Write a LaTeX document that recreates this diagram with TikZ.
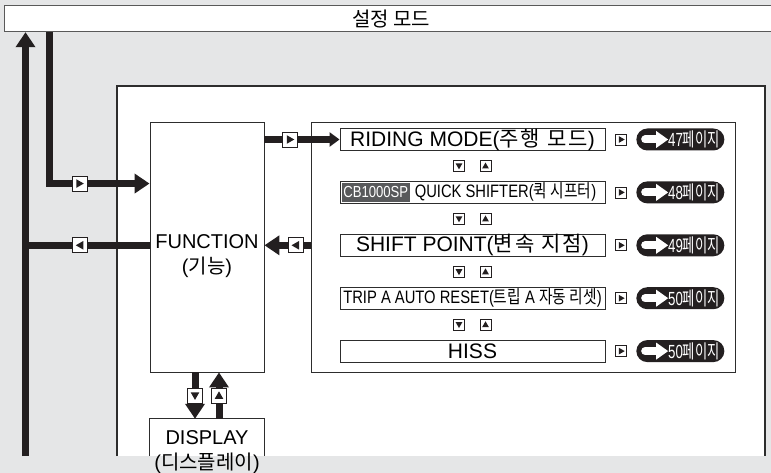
\documentclass[tikz,border=0pt]{standalone}
\usepackage{fontspec}
\usepackage{graphicx}
\setmainfont{Liberation Sans}
\newfontfamily\kor{Noto Sans CJK KR}
\newfontfamily\korwide[LetterSpace=10]{Noto Sans CJK KR}
\usepackage{tikz}
\usetikzlibrary{arrows.meta,positioning,shapes.misc,calc}
\definecolor{bggray}{RGB}{229,230,231}
\definecolor{edge}{RGB}{45,45,45}
\definecolor{ink}{RGB}{35,31,32}
\definecolor{tagfill}{RGB}{88,89,91}
\newcommand{\cond}[1]{\scalebox{0.82}[1]{#1}}
\newcommand{\pagecond}[1]{\scalebox{0.7}[1]{#1}}

\begin{document}
\begin{tikzpicture}[
  x=1pt, y=-1pt,
  font=\fontsize{20}{25}\selectfont,
  box/.style={draw=edge, line width=0.9pt, fill=white, inner sep=0pt},
  rowbox/.style={box, minimum width=265pt, minimum height=22pt, font=\fontsize{21}{24}\selectfont},
  pill/.style={rounded rectangle, fill=ink, text=white, minimum width=96pt, minimum height=22pt,
    inner xsep=4pt, inner ysep=0pt, font=\fontsize{19}{21}\selectfont},
  keybox/.style={draw=ink, line width=0.7pt, fill=white, inner sep=0pt, minimum size=11pt},
  bigkey/.style={keybox, line width=0.8pt, minimum size=15pt},
  kR/.style={path picture={\fill[ink, shift={(path picture bounding box.center)}]
    (-0.75*#1,-#1) -- (#1,0) -- (-0.75*#1,#1) -- cycle;}},
  kL/.style={path picture={\fill[ink, shift={(path picture bounding box.center)}]
    (0.75*#1,-#1) -- (-#1,0) -- (0.75*#1,#1) -- cycle;}},
  kU/.style={path picture={\fill[ink, shift={(path picture bounding box.center)}]
    (-#1,0.75*#1) -- (0,-#1) -- (#1,0.75*#1) -- cycle;}},
  kD/.style={path picture={\fill[ink, shift={(path picture bounding box.center)}]
    (-#1,-0.75*#1) -- (0,#1) -- (#1,-0.75*#1) -- cycle;}},
  kR/.default=3.4, kL/.default=3.4, kU/.default=3.4, kD/.default=3.4,
  flow/.style={draw=ink, line width=7pt},
  tip/.style={-{Triangle[length=15pt, width=19pt]}},
  smalltip/.style={-{Triangle[length=10pt, width=14pt]}}
]
\useasboundingbox (0,0) rectangle (771,473);
\fill[bggray] (0,0) rectangle (771,473);
% ---------------- top bar
\node[box, draw=gray!70!black, line width=1.2pt, anchor=north west, minimum width=773pt, minimum height=26pt] (mode) at (4,5) {{\kor 설정 모드}};
% ---------------- white panel
\draw[draw=edge, line width=1.1pt, fill=white] (117,456) |- (765,86) -- (765,456);
% ---------------- function and display
\node[box, minimum width=114pt, minimum height=250pt] (func) at (207,247) {};
\node[align=center] (fnlbl) at (207,256) {FUNCTION\\({\kor 기능})};
\node[minimum width=114pt, minimum height=37pt, inner sep=0pt] (disp) at (207,437.5) {DISPLAY};
\draw[draw=edge, line width=0.9pt] (disp.south west) |- (disp.north east) -- (disp.south east);
\node[inner sep=0pt] (displbl) at (207,463) {({\kor 디스플레이})};
% ---------------- menu list
\node[box, minimum width=424pt, minimum height=250pt] (list) at (523,247) {};
\node[rowbox, anchor=north] (r1) at ($(list.north)+(-50.5,6.5)$) {RIDING MODE({\korwide 주행 모드})};
\node[rowbox, below=30pt of r1, font=\fontsize{18}{20}\selectfont] (r2) {\hspace*{66pt}\cond{QUICK SHIFTER({\kor 퀵 시프터})}};
\node[rowbox, below=30pt of r2] (r3) {SHIFT POINT({\korwide 변속 지점})};
\node[rowbox, below=30pt of r3, font=\fontsize{18}{20}\selectfont] (r4) {\cond{TRIP A AUTO RESET({\kor 트립} A {\kor 자동 리셋})}};
\node[rowbox, below=30pt of r4] (r5) {HISS};
\node[fill=tagfill, text=white, inner sep=0pt, minimum width=68pt, minimum height=19pt, anchor=west,
  font=\fontsize{16}{18}\selectfont] (cbtag) at ([xshift=2pt]r2.west) {\cond{CB1000SP}};
% ---------------- up / down keys
\foreach \a/\b in {r1/r2, r2/r3, r3/r4, r4/r5} {
  \node[keybox, kD] (dn\a) at ($(\a.south)!0.5!(\b.north)+(-13.5,0)$) {};
  \node[keybox, kU] (up\a) at ($(\a.south)!0.5!(\b.north)+(13,0)$) {};
}
% ---------------- page references
\foreach \r/\p in {r1/47, r2/48, r3/49, r4/50, r5/50} {
  \node[keybox, kR, right=10pt of \r] (go\r) {};
  \node[pill, right=9pt of go\r] (pg\r) {\hspace*{27pt}\pagecond{\p{\kor 페이지}}};
  \draw[white, line width=8pt, line cap=round] ($(pg\r.west)+(9,0)$) -- ($(pg\r.west)+(21,0)$);
  \fill[white] ($(pg\r.west)+(20,-8.5)$) -- ($(pg\r.west)+(32,0)$) -- ($(pg\r.west)+(20,8.5)$) -- cycle;
}
% ---------------- arrows
\coordinate (lb) at (25.5,456);
\coordinate (setdn) at ($(mode.south west)+(45.5,0)$);
\draw[flow, tip] (lb) -- (lb |- mode.south);
\draw[flow, tip] (setdn) |- ($(func.north west)+(0,62)$) node[bigkey, kR=4.3, pos=0.65] (k1) {};
\draw[flow] (func.west |- r3.west) -- (lb |- r3.west) node[bigkey, kL=4.3, pos=0.56] (k2) {};
\draw[flow, smalltip] (func.east |- r1.west) -- (r1.west) node[bigkey, kR=4.3, pos=0.34] (k3) {};
\draw[flow, tip] (list.west |- r3.west) -- (func.east |- r3.west) node[bigkey, kL=4.3, pos=0.32] (k4) {};
\draw[flow, tip] ([xshift=-12pt]func.south) -- ([xshift=-12pt]disp.north) node[bigkey, kD=4.3, midway] (k5) {};
\draw[flow, tip] ([xshift=12pt]disp.north) -- ([xshift=12pt]func.south) node[bigkey, kU=4.3, midway] (k6) {};
\end{tikzpicture}
\end{document}
